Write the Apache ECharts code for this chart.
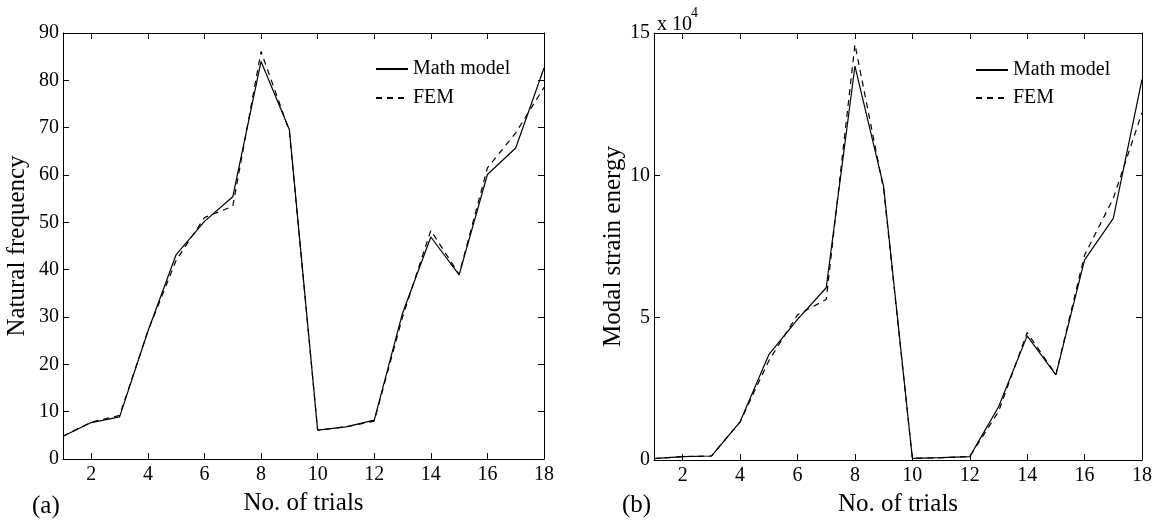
<!DOCTYPE html>
<html>
<head>
<meta charset="utf-8">
<script src="https://cdn.jsdelivr.net/npm/echarts@6/dist/echarts.min.js"></script>
<style>
html,body{margin:0;padding:0;background:#fff;}
#chart{width:1159px;height:522px;}
</style>
</head>
<body>
<div id="chart"></div>
<script>
// ---- data ----
var trials = [1,2,3,4,5,6,7,8,9,10,11,12,13,14,15,16,17,18];
var xTicks = [2,4,6,8,10,12,14,16,18];
var freqMath = [4.8,7.7,8.9,27,43.2,50.2,55.4,84,69.6,6.1,6.8,8.2,30.8,46.9,38.9,60.1,65.7,82.6];
var freqFEM  = [4.8,7.8,9.2,27,42.0,51.0,53.4,86.1,69.3,6.1,6.8,8.0,30.0,48.3,39.0,61.5,68.9,78.5];
// modal strain energy in units of 10^4
var mseMath = [0.05,0.12,0.14,1.34,3.70,4.94,6.05,13.84,9.60,0.06,0.08,0.12,1.86,4.36,2.99,7.03,8.49,13.37];
var mseFEM  = [0.05,0.12,0.14,1.34,3.49,5.10,5.64,14.60,9.50,0.06,0.08,0.12,1.70,4.48,3.00,7.20,9.19,12.20];
var seriesNames = ['Math model','FEM'];
var yTitles = ['Natural frequency','Modal strain energy'];
var xTitle = 'No. of trials';
var panelTags = ['(a)','(b)'];

function pairs(ys){ return trials.map(function(t,i){ return [t, ys[i]]; }); }

var FONT = '"Liberation Serif", "Times New Roman", serif';
var BLACK = '#000';

function xAxes(gi){
  var base = {
    type:'value', gridIndex:gi, min:1, max:18,
    axisLine:{show:true, onZero:false, lineStyle:{color:BLACK, width:1}},
    axisTick:{show:true, inside:true, length:6, customValues:xTicks, lineStyle:{color:BLACK}},
    splitLine:{show:false}
  };
  var bottom = Object.assign({}, base, {
    position:'bottom',
    axisLabel:{show:true, customValues:xTicks, color:BLACK, fontFamily:FONT, fontSize:20, margin:6},
    name: xTitle, nameLocation:'middle', nameGap:32,
    nameTextStyle:{color:BLACK, fontFamily:FONT, fontSize:25}
  });
  var top = Object.assign({}, base, {position:'top', axisLabel:{show:false}});
  return [bottom, top];
}
function yAxes(gi, max, interval, nameGap){
  var base = {
    type:'value', gridIndex:gi, min:0, max:max, interval:interval,
    axisLine:{show:true, onZero:false, lineStyle:{color:BLACK, width:1}},
    axisTick:{show:true, inside:true, length:6, lineStyle:{color:BLACK}},
    splitLine:{show:false}
  };
  var left = Object.assign({}, base, {
    position:'left',
    axisLabel:{show:true, color:BLACK, fontFamily:FONT, fontSize:20, margin:4},
    name: yTitles[gi], nameLocation:'middle', nameGap:nameGap, nameRotate:90,
    nameTextStyle:{color:BLACK, fontFamily:FONT, fontSize:25}
  });
  var right = Object.assign({}, base, {position:'right', axisLabel:{show:false}});
  return [left, right];
}

var xa0 = xAxes(0), xa1 = xAxes(1);
var ya0 = yAxes(0, 90, 10, 33), ya1 = yAxes(1, 15, 5, 28);

function lineSeries(name, data, xi, yi, dashed){
  return {
    type:'line', name:name, data:pairs(data), xAxisIndex:xi, yAxisIndex:yi,
    symbol:'none', showSymbol:false, animation:false, silent:true,
    lineStyle:{color:BLACK, width:1.2, type: dashed ? [6,5] : 'solid'},
    itemStyle:{color:BLACK}
  };
}

function legend(name, left, top){
  return {
    data:[name], left:left, top:top, selectedMode:false,
    itemWidth:32, itemHeight:14, padding:0,
    itemStyle:{opacity:0},
    textStyle:{color:BLACK, fontFamily:FONT, fontSize:20, lineHeight:22}
  };
}

var chart = echarts.init(document.getElementById('chart'), null, {renderer:'canvas'});
chart.setOption({
  backgroundColor:'#fff',
  animation:false,
  grid:[
    {left:63, right:615, top:33, bottom:63, containLabel:false},
    {left:654, right:17, top:33, bottom:59, containLabel:false}
  ],
  xAxis:[xa0[0], xa0[1], xa1[0], xa1[1]],
  yAxis:[ya0[0], ya0[1], ya1[0], ya1[1]],
  legend:[
    legend(seriesNames[0], 375, 58),
    legend(seriesNames[1], 375, 87),
    legend(seriesNames[0], 975, 59),
    legend(seriesNames[1], 975, 87)
  ],
  series:[
    lineSeries(seriesNames[0], freqMath, 0, 0, false),
    lineSeries(seriesNames[1], freqFEM, 0, 0, true),
    lineSeries(seriesNames[0], mseMath, 2, 2, false),
    lineSeries(seriesNames[1], mseFEM, 2, 2, true)
  ],
  graphic:[
    {type:'text', left:32, top:494, style:{text:panelTags[0], fill:BLACK, font:'25px ' + FONT}},
    {type:'text', left:622, top:493, style:{text:panelTags[1], fill:BLACK, font:'25px ' + FONT}},
    {type:'text', left:657, top:15, style:{text:'x 10', fill:BLACK, font:'20px ' + FONT}},
    {type:'text', left:691, top:6, style:{text:'4', fill:BLACK, font:'14px ' + FONT}}
  ]
});
</script>
</body>
</html>
